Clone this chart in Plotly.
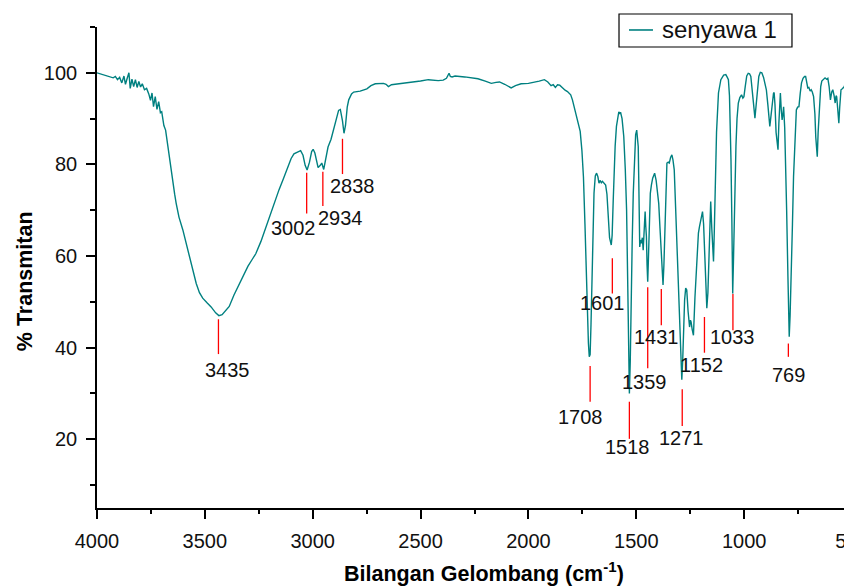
import plotly.graph_objects as go

# ---------------- data ----------------
wavenumber = [
    4000, 3975, 3955, 3940, 3925, 3915, 3905, 3895, 3885, 3875, 3868, 3860, 3852, 3846, 3838, 3830,
    3822, 3814, 3806, 3798, 3790, 3780, 3770, 3760, 3752, 3745, 3738, 3730, 3722, 3714, 3706, 3700,
    3690, 3682, 3672, 3665, 3656, 3648, 3640, 3633, 3620, 3602, 3585, 3571, 3555, 3540, 3525, 3510,
    3490, 3471, 3450, 3435, 3420, 3405, 3387, 3365, 3345, 3325, 3300, 3280, 3264, 3240, 3220, 3202,
    3180, 3156, 3135, 3118, 3100, 3087, 3070, 3056, 3045, 3035, 3026, 3015, 3005, 2998, 2990, 2982,
    2975, 2965, 2958, 2949, 2940, 2929, 2915, 2903, 2890, 2880, 2872, 2862, 2855, 2848, 2840, 2833,
    2820, 2810, 2780, 2749, 2730, 2710, 2672, 2660, 2649, 2635, 2618, 2580, 2541, 2500, 2464, 2440,
    2418, 2395, 2380, 2368, 2362, 2354, 2340, 2295, 2260, 2234, 2200, 2172, 2150, 2134, 2110, 2080,
    2060, 2034, 2000, 1972, 1950, 1926, 1910, 1895, 1885, 1875, 1865, 1855, 1845, 1830, 1819, 1804,
    1796, 1781, 1772, 1760, 1752, 1745, 1738, 1734, 1728, 1722, 1718, 1714, 1710, 1707, 1702, 1696,
    1690, 1684, 1678, 1673, 1668, 1662, 1657, 1650, 1642, 1636, 1630, 1624, 1616, 1612, 1607, 1604,
    1598, 1592, 1586, 1581, 1577, 1573, 1566, 1558, 1551, 1545, 1540, 1536, 1532, 1528, 1524, 1519,
    1514, 1508, 1503, 1498, 1494, 1491, 1488, 1484, 1480, 1476, 1472, 1468, 1463, 1459, 1456, 1453,
    1450, 1447, 1444, 1440, 1435, 1430, 1424, 1415, 1408, 1402, 1396, 1390, 1384, 1379, 1376, 1372,
    1366, 1362, 1358, 1352, 1347, 1341, 1335, 1330, 1324, 1318, 1313, 1309, 1303, 1297, 1292, 1289,
    1285, 1281, 1276, 1271, 1266, 1260, 1253, 1249, 1246, 1241, 1235, 1228, 1219, 1212, 1207, 1200,
    1193, 1188, 1184, 1178, 1173, 1168, 1163, 1158, 1155, 1150, 1145, 1142, 1138, 1135, 1128, 1119,
    1108, 1095, 1085, 1078, 1073, 1068, 1064, 1061, 1057, 1053, 1049, 1045, 1043, 1038, 1033, 1027,
    1020, 1012, 1006, 1001, 995, 988, 981, 975, 969, 962, 957, 950, 945, 940, 932, 925,
    918, 910, 903, 897, 890, 885, 881, 877, 870, 864, 861, 857, 852, 847, 843, 839,
    835, 832, 828, 824, 820, 817, 812, 808, 803, 797, 794, 791, 787, 781, 776, 771,
    765, 758, 752, 746, 740, 734, 727, 720, 715, 710, 705, 700, 694, 689, 684, 678,
    672, 668, 664, 661, 657, 651, 645, 640, 635, 625, 618, 612, 606, 600, 594, 589,
    583, 578, 574, 571, 566, 561, 557, 551, 545, 540, 535, 531, 528, 520, 510, 500,
]
transmittance = [
    100.0, 99.6, 99.3, 99.1, 98.9, 99.2, 98.5, 99.0, 97.8, 99.3, 97.5, 98.8, 100.0, 96.6, 98.6, 97.0,
    98.5, 96.8, 98.1, 96.9, 97.6, 96.3, 96.6, 95.4, 94.0, 95.6, 92.6, 94.8, 92.0, 93.7, 91.3, 91.5,
    88.5, 87.5, 84.0, 81.5, 78.1, 76.5, 73.5, 71.5, 68.5, 65.7, 62.5, 59.8, 57.0, 54.0, 52.0, 50.8,
    49.8, 48.9, 47.6, 47.0, 47.2, 48.0, 49.0, 51.5, 53.5, 55.5, 57.8, 59.3, 60.5, 63.2, 66.0, 68.5,
    71.3, 74.5, 77.0, 79.2, 81.3, 82.3, 82.6, 83.0, 82.0, 79.8, 78.8, 80.5, 82.8, 83.3, 82.5, 80.5,
    79.3, 79.8, 80.3, 78.9, 81.0, 83.8, 85.5, 87.5, 90.0, 91.8, 92.0, 89.5, 86.8, 88.5, 92.5, 94.1,
    95.4, 95.8, 96.0, 96.5, 97.2, 97.6, 97.7, 97.5, 97.0, 97.4, 97.5, 97.7, 97.9, 98.2, 98.5, 98.4,
    98.3, 98.4, 98.8, 99.9, 99.2, 99.1, 99.3, 99.1, 98.9, 98.7, 98.2, 97.7, 97.9, 98.0, 97.5, 96.7,
    97.2, 97.6, 97.7, 97.9, 98.2, 98.5, 98.0, 97.2, 97.4, 96.8, 97.4, 97.3, 96.8, 96.2, 95.9, 95.2,
    94.1, 91.2, 89.5, 87.2, 83.0, 77.3, 67.0, 59.1, 49.0, 41.0, 38.0, 38.5, 45.0, 51.8, 63.0, 73.7,
    77.5, 78.1, 77.3, 75.9, 76.5, 76.0, 76.3, 75.8, 75.5, 73.5, 69.0, 64.0, 62.4, 64.5, 72.0, 77.3,
    84.0, 88.3, 90.5, 91.5, 91.0, 91.4, 90.0, 86.1, 79.0, 70.1, 55.0, 40.0, 30.0, 37.0, 51.9, 63.0,
    73.7, 81.0, 86.5, 87.5, 86.0, 83.9, 75.0, 62.0, 63.5, 62.8, 64.0, 61.3, 66.0, 69.7, 66.5, 64.2,
    58.0, 54.4, 59.0, 67.0, 73.7, 75.5, 77.0, 78.1, 76.5, 74.0, 71.5, 66.0, 59.0, 54.5, 53.7, 58.0,
    70.0, 76.5, 80.3, 80.5, 80.3, 81.5, 82.1, 81.0, 78.8, 71.0, 64.5, 59.1, 49.0, 40.0, 34.5, 33.0,
    37.0, 44.0, 50.4, 53.0, 52.6, 48.0, 44.5, 46.0, 45.6, 44.0, 42.7, 51.0, 59.1, 65.0, 66.4, 68.5,
    69.7, 67.0, 62.0, 52.0, 48.6, 52.0, 59.1, 67.5, 71.9, 66.0, 59.0, 58.8, 66.0, 73.7, 87.0, 95.6,
    98.5, 99.5, 99.6, 99.0, 98.5, 95.0, 88.0, 81.0, 68.0, 51.8, 60.0, 70.0, 73.7, 84.0, 90.0, 93.4,
    94.6, 95.2, 94.5, 94.8, 97.0, 99.3, 99.9, 99.8, 99.2, 96.5, 93.5, 90.1, 92.5, 96.0, 99.2, 100.1,
    100.0, 99.0, 97.8, 96.3, 93.0, 90.0, 88.3, 90.0, 93.5, 95.5, 95.7, 93.0, 87.0, 84.0, 83.2, 89.0,
    95.0, 95.6, 92.0, 89.7, 91.0, 92.6, 88.0, 81.0, 70.0, 55.5, 48.0, 42.4, 47.0, 55.5, 67.0, 77.3,
    85.0, 91.9, 92.5, 92.6, 95.5, 97.8, 98.8, 99.2, 99.2, 98.0, 96.7, 96.8, 96.0, 96.3, 95.8, 94.8,
    91.0, 86.0, 82.0, 81.7, 87.0, 93.4, 97.0, 98.2, 98.5, 98.9, 98.6, 98.8, 97.0, 94.1, 95.8, 96.3,
    95.0, 93.4, 95.0, 94.8, 92.0, 89.0, 92.5, 96.3, 96.5, 96.8, 97.0, 98.5, 99.2, 99.0, 98.5, 98.8,
]

series_name = "senyawa 1"
x_title = "<b>Bilangan Gelombang (cm<sup>-1</sup>)</b>"
y_title = "<b>% Transmitan</b>"

# peak annotations: label text, marker position (cm-1), marker top / bottom (%T)
peak_labels = ["3435", "3002", "2934", "2838", "1708", "1601", "1518",
               "1359", "1431", "1271", "1152", "1033", "769"]
peak_marker_x = [3437, 3028, 2953, 2862, 1714, 1611, 1532, 1447, 1384, 1287, 1184, 1052, 795]
peak_marker_top = [46.2, 78.2, 78.4, 85.6, 36.0, 59.5, 28.2, 53.2, 52.8, 30.9, 46.7, 51.7, 40.9]
peak_marker_bottom = [38.6, 69.3, 70.9, 77.9, 28.2, 51.8, 20.1, 35.5, 44.9, 22.9, 38.9, 43.8, 38.0]
# label text centres (cm-1, %T)
peak_text_x = [3393, 3087, 2872, 2815, 1760, 1657, 1539, 1462, 1404, 1292, 1196, 1053, 794]
peak_text_y = [35.1, 66.1, 68.2, 75.4, 24.9, 49.7, 18.3, 32.5, 42.4, 20.2, 36.2, 42.4, 34.0]

x_tick_vals = [4000, 3500, 3000, 2500, 2000, 1500, 1000, 500]
y_tick_vals = [20, 40, 60, 80, 100]

# ---------------- figure ----------------
TEAL = "#008080"
FONT = "Liberation Sans, Arial, sans-serif"

fig = go.Figure()
fig.add_trace(go.Scatter(
    x=wavenumber, y=transmittance, mode="lines", name=series_name,
    line=dict(color=TEAL, width=1.4), showlegend=False,
))

for xm, y0, y1 in zip(peak_marker_x, peak_marker_top, peak_marker_bottom):
    fig.add_shape(type="line", xref="x", yref="y", x0=xm, x1=xm, y0=y0, y1=y1,
                  line=dict(color="#ff0000", width=1.3))

for txt, tx, ty in zip(peak_labels, peak_text_x, peak_text_y):
    fig.add_annotation(x=tx, y=ty, xref="x", yref="y", text=txt, showarrow=False,
                       font=dict(family=FONT, size=20, color="#111111"),
                       xanchor="center", yanchor="middle")

# legend box (drawn in paper coordinates)
fig.add_shape(type="rect", xref="paper", yref="paper", x0=0.6914, x1=0.9205,
              y0=0.9584, y1=1.0270, line=dict(color="black", width=1.2),
              fillcolor="white", layer="above")
fig.add_shape(type="line", xref="paper", yref="paper", x0=0.7046, x1=0.7364,
              y0=0.9938, y1=0.9938, line=dict(color=TEAL, width=1.6), layer="above")
fig.add_annotation(x=0.7457, y=0.9938, xref="paper", yref="paper", text=series_name,
                   showarrow=False, xanchor="left", yanchor="middle",
                   font=dict(family=FONT, size=24, color="#111111"))

# axis titles
fig.add_annotation(x=0.5126, y=-0.1331, xref="paper", yref="paper", text=x_title,
                   showarrow=False, xanchor="center", yanchor="middle",
                   font=dict(family=FONT, size=21.5, color="black"))
fig.add_annotation(x=-0.0960, y=0.4705, xref="paper", yref="paper", text=y_title,
                   showarrow=False, xanchor="center", yanchor="middle", textangle=-90,
                   font=dict(family=FONT, size=21.5, color="black"))

axis_common = dict(
    showgrid=False, zeroline=False, showline=True, linecolor="black", linewidth=1.6,
    ticks="outside", ticklen=9, tickwidth=1.6, tickcolor="black",
    tickfont=dict(family=FONT, size=20, color="#111111"), mirror=False,
    ticklabeloverflow="allow",
)

fig.update_xaxes(
    range=[4000, 500], tickvals=x_tick_vals, ticklabelstandoff=5,
    minor=dict(ticks="outside", ticklen=4, tickwidth=1.6, tickcolor="black", dtick=250,
               tick0=0, showgrid=False),
    **axis_common,
)
fig.update_yaxes(
    range=[5, 110], tickvals=y_tick_vals, ticklabelstandoff=5,
    minor=dict(ticks="outside", ticklen=5, tickwidth=1.6, tickcolor="black", dtick=20,
               tick0=10, showgrid=False),
    **axis_common,
)

fig.update_layout(
    width=844, height=578,
    margin=dict(l=89, r=0, t=19, b=78, autoexpand=False),
    plot_bgcolor="white", paper_bgcolor="white",
    showlegend=False,
)

fig.write_html("out.html")
